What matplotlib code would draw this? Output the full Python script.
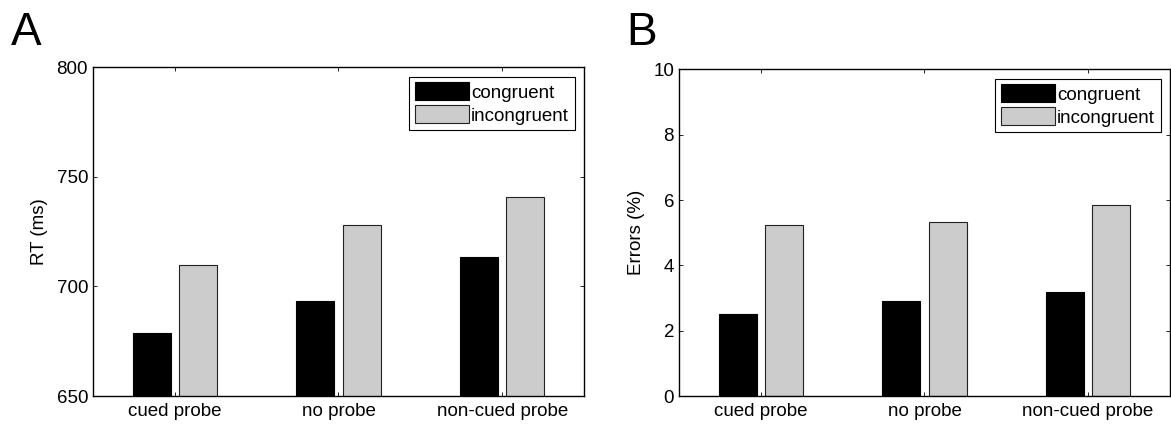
import numpy as np
import matplotlib
matplotlib.use('Agg')
from matplotlib import pyplot as plt

plt.rcParams['font.family'] = ['Liberation Sans', 'DejaVu Sans']

#data
conditions = ['cued probe', 'no probe', 'non-cued probe']
series_names = ['congruent', 'incongruent']
rt_congruent = [678.6, 693.5, 713.5]
rt_incongruent = [709.7, 728.0, 741.0]
err_congruent = [2.50, 2.90, 3.20]
err_incongruent = [5.25, 5.32, 5.86]

rt_ticks = [650, 700, 750, 800]
err_ticks = [0, 2, 4, 6, 8, 10]

fig = plt.figure(figsize=(11.71, 4.25), dpi=100)
axA = fig.add_axes([0.0794, 0.068, 0.4193, 0.774])
axB = fig.add_axes([0.5798, 0.068, 0.4193, 0.769])

x = np.arange(1, len(conditions) + 1)
width = 0.232
off = 0.142
fs = 13.5

def draw_panel(ax, cong, incong, ticks, ylabel):
    ax.bar(x - off, cong, width, bottom=0, color='black', edgecolor='black',
           linewidth=0.8, label=series_names[0])
    ax.bar(x + off, incong, width, color='#cccccc', edgecolor='#222222',
           linewidth=0.8, label=series_names[1])
    ax.set_xlim(0.5, 3.5)
    ax.set_ylim(ticks[0], ticks[-1])
    ax.set_yticks(ticks)
    ax.set_xticks(x)
    ax.set_xticklabels(conditions)
    ax.set_ylabel(ylabel, fontsize=fs, labelpad=6)
    ax.tick_params(axis='both', direction='in', labelsize=fs,
                   top=True, right=True, length=3, width=0.6)
    ax.tick_params(axis='x', pad=5)
    for s in ax.spines.values():
        s.set_linewidth(1.0)
    leg = ax.legend(loc='upper right', fontsize=fs, fancybox=False,
                    framealpha=1, edgecolor='black', borderaxespad=0.5,
                    handlelength=2.9, handleheight=1.1, handletextpad=0.1,
                    borderpad=0.3, labelspacing=0.2)
    leg.get_frame().set_linewidth(0.8)

draw_panel(axA, rt_congruent, rt_incongruent, rt_ticks, 'RT (ms)')
draw_panel(axB, err_congruent, err_incongruent, err_ticks, 'Errors (%)')

fig.text(0.009, 0.895, 'A', fontsize=33)
fig.text(0.535, 0.895, 'B', fontsize=33)

fig.savefig('out.png', dpi=100)
